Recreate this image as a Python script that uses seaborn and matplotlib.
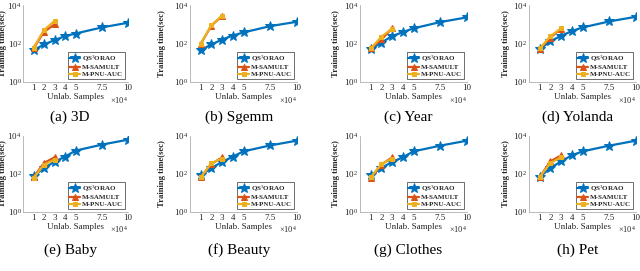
import numpy as np
import pandas as pd
import seaborn as sns
import matplotlib
matplotlib.use("Agg")
import matplotlib.pyplot as plt

sns.set_theme(style="white")
plt.rcParams['font.family'] = ['Liberation Serif', 'DejaVu Serif']
plt.rcParams['mathtext.fontset'] = 'custom'
plt.rcParams['mathtext.rm'] = 'Liberation Serif'
plt.rcParams['mathtext.it'] = 'Liberation Serif:italic'
plt.rcParams['mathtext.bf'] = 'Liberation Serif:bold'

# ---- data ----
x_qs = [1, 2, 3, 4, 5, 7.5, 10]
x_base = [1, 2, 3]
xtick_vals = [1, 2, 3, 4, 5, 7.5, 10]
xtick_labels = ["1", "2", "3", "4", "5", "7.5", "10"]
captions = ["(a) 3D", "(b) Sgemm", "(c) Year", "(d) Yolanda",
            "(e) Baby", "(f) Beauty", "(g) Clothes", "(h) Pet"]
methods = ["QS$^3$ORAO", "M-SAMULT", "M-PNU-AUC"]

qs_3d = [45, 89, 150, 240, 330, 680, 1200]
samult_3d = [55, 400, 980]
pnu_3d = [60, 500, 1480]

qs_sgemm = [45, 89, 160, 260, 375, 800, 1350]
samult_sgemm = [95, 850, 2700]
pnu_sgemm = [100, 900, 2800]

qs_year = [50, 112, 240, 390, 610, 1300, 2280]
samult_year = [55, 162, 610]
pnu_year = [55, 224, 600]

qs_yolanda = [50, 132, 250, 440, 680, 1400, 2450]
samult_yolanda = [50, 200, 600]
pnu_yolanda = [55, 240, 610]

qs_baby = [75, 207, 430, 820, 1690, 3500, 6400]
samult_baby = [67, 380, 750]
pnu_baby = [62, 310, 570]

qs_beauty = [85, 207, 430, 820, 1550, 3200, 5700]
samult_beauty = [67, 335, 750]
pnu_beauty = [67, 380, 640]

qs_clothes = [85, 207, 430, 750, 1550, 3100, 5700]
samult_clothes = [62, 310, 750]
pnu_clothes = [67, 335, 640]

qs_pet = [70, 207, 460, 960, 1550, 3100, 5700]
samult_pet = [70, 460, 960]
pnu_pet = [70, 380, 750]

panels = [
    (qs_3d, samult_3d, pnu_3d),
    (qs_sgemm, samult_sgemm, pnu_sgemm),
    (qs_year, samult_year, pnu_year),
    (qs_yolanda, samult_yolanda, pnu_yolanda),
    (qs_baby, samult_baby, pnu_baby),
    (qs_beauty, samult_beauty, pnu_beauty),
    (qs_clothes, samult_clothes, pnu_clothes),
    (qs_pet, samult_pet, pnu_pet),
]

colors = ["#0072BD", "#D95319", "#EDB120"]
marks = ["*", "^", "s"]
msizes = [7.5, 4, 3.5]

W, H = 640, 271
fig = plt.figure(figsize=(6.4, 2.71), dpi=100)

lefts = [23, 190, 360, 529]
widths = [105, 107, 107, 107]
ylabel_x = [-0.157, -0.22, -0.19, -0.18]
rows = [(5, 82), (136, 212)]
caption_x_px = [70, 239, 408, 578]
caption_y_px = [117, 250]

for i, (qs, sa, pn) in enumerate(panels):
    r, c = divmod(i, 4)
    top, bot = rows[r]
    ax = fig.add_axes([lefts[c] / W, 1 - bot / H, widths[c] / W, (bot - top) / H])
    series = [(x_qs, qs), (x_base, sa), (x_base, pn)]
    for k, (xs, ys) in enumerate(series):
        df = pd.DataFrame({"x": xs, "y": ys})
        sns.lineplot(data=df, x="x", y="y", ax=ax, color=colors[k],
                     marker=marks[k], markersize=msizes[k],
                     markeredgecolor=colors[k], linewidth=1.6,
                     label=methods[k], zorder=3 if k == 0 else 4)
    ax.set_yscale("log")
    ax.set_ylim(1, 1e4)
    ax.set_xlim(0, 10)
    ax.set_yticks([1, 100, 10000])
    ax.set_yticklabels(["10$^0$", "10$^2$", "10$^4$"])
    ax.minorticks_off()
    ax.set_xticks(xtick_vals)
    ax.set_xticklabels(xtick_labels)
    ax.tick_params(axis="both", labelsize=6.5, length=2, direction="in",
                   pad=1.5, colors="#262626", labelcolor="#262626")
    if c == 0:
        ax.tick_params(axis="y", pad=1)
    for s in ["top", "right"]:
        ax.spines[s].set_visible(False)
    for s in ["left", "bottom"]:
        ax.spines[s].set_color("#b0b0b0")
        ax.spines[s].set_linewidth(0.6)
    ax.set_xlabel("Unlab. Samples", fontsize=6.5, labelpad=1, color="#262626")
    ax.set_ylabel("Training time(sec)", fontsize=6.2, fontweight="bold",
                  color="#262626")
    ax.yaxis.set_label_coords(ylabel_x[c], 0.5)
    ax.text(1.0, -0.235, r"$\times10^4$", transform=ax.transAxes,
            ha="right", va="center", fontsize=6, color="#262626")
    fig.text(caption_x_px[c] / W, 1 - caption_y_px[r] / H, captions[i],
             ha="center", va="center", fontsize=11, color="black")
    leg = ax.legend(loc="lower right", bbox_to_anchor=(0.97, 0.04),
                    frameon=True, handlelength=1.5,
                    labelspacing=0.15, borderpad=0.25, handletextpad=0.3,
                    borderaxespad=0, prop={"size": 5, "weight": "bold"})
    leg.get_frame().set_edgecolor("black")
    leg.get_frame().set_linewidth(0.5)
    leg.get_frame().set_boxstyle("square", pad=0)

fig.savefig("out.png", dpi=100)
